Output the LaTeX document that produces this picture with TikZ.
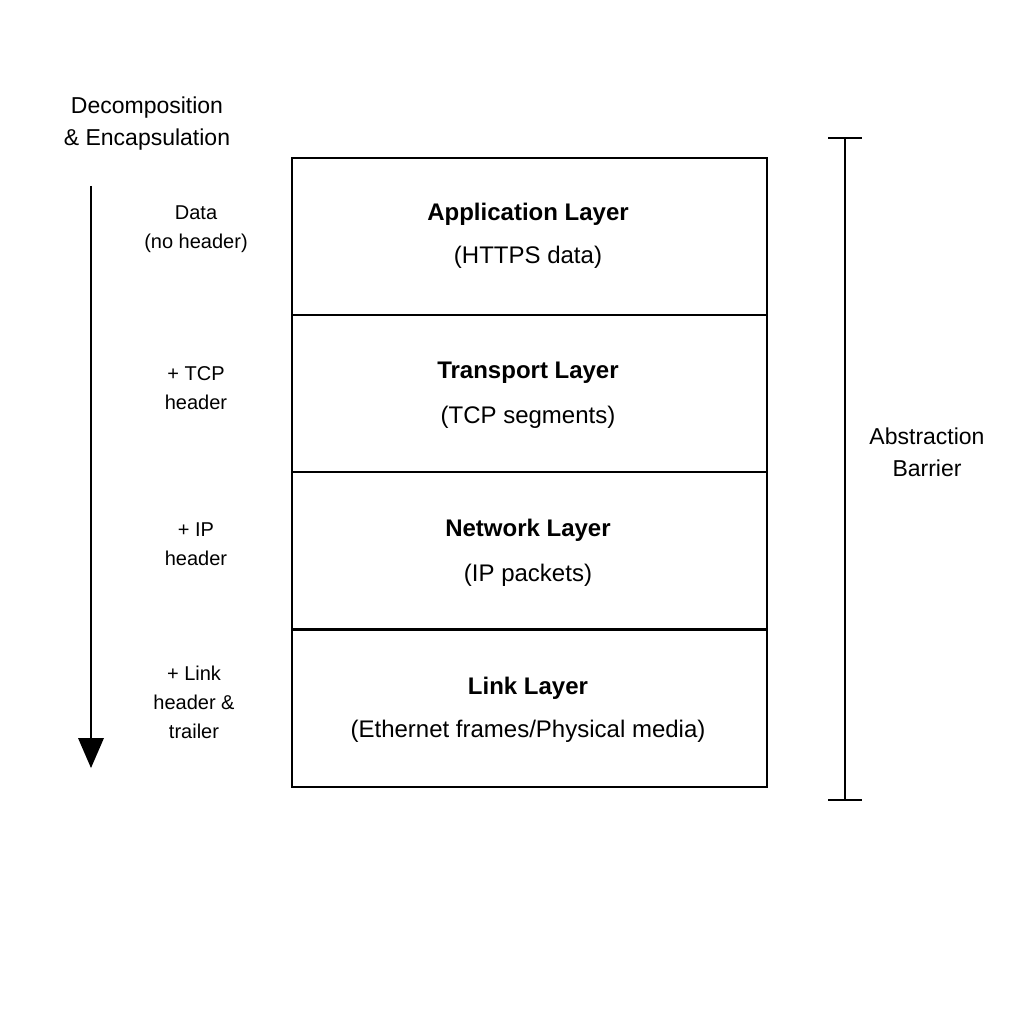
\documentclass[tikz,border=0pt]{standalone}
\usepackage{fontspec}
\setmainfont{Liberation Sans}
\begin{document}
\begin{tikzpicture}[x=1pt,y=-1pt,
  box/.style={draw,line width=2pt,minimum width=475pt,minimum height=157pt,anchor=north west,inner sep=0},
  ttl/.style={font=\fontsize{24}{28}\selectfont\bfseries},
  sub/.style={font=\fontsize{24}{28}\selectfont},
  lbl/.style={font=\fontsize{20}{29}\selectfont,align=center},
  side/.style={font=\fontsize{23}{32}\selectfont,align=center}]
\useasboundingbox (0,0) rectangle (1024,1024);
\fill[white] (0,0) rectangle (1024,1024);
\node[box] (b1) at (291,157) {};
\node[box] (b2) at (291,314) {};
\node[box] (b3) at (291,471) {};
\node[box] (b4) at (291,629) {};
\node[ttl] (t1) at (528,214) {Application Layer};
\node[sub] (s1) at (528,257) {(HTTPS data)};
\node[ttl] (t2) at (528,373) {Transport Layer};
\node[sub] (s2) at (528,417) {(TCP segments)};
\node[ttl] (t3) at (528,530) {Network Layer};
\node[sub] (s3) at (528,575) {(IP packets)};
\node[ttl] (t4) at (528,688) {Link Layer};
\node[sub] (s4) at (528,731) {(Ethernet frames/Physical media)};
\node[side] (dt) at (147,124) {Decomposition\\\& Encapsulation};
\node[lbl] (l1) at (196,229) {Data\\(no header)};
\node[lbl] (l2) at (196,388) {+ TCP\\header};
\node[lbl] (l3) at (196,544) {+ IP\\header};
\node[lbl] (l4) at (194,702) {+ Link\\header \&\\trailer};
\node[side] (ab) at (927,452) {Abstraction\\Barrier};
\coordinate (a0) at (91,186);
\coordinate (a1) at (91,740);
\draw[line width=2pt] (a0) -- (a1);
\fill (78,738) -- (104,738) -- (91,768) -- cycle;
\coordinate (c0) at (845,138);
\coordinate (c1) at (845,800);
\draw[line width=2pt] (c0) -- (c1);
\draw[line width=2pt] (828,138) -- (862,138) (828,800) -- (862,800);
\end{tikzpicture}
\end{document}
